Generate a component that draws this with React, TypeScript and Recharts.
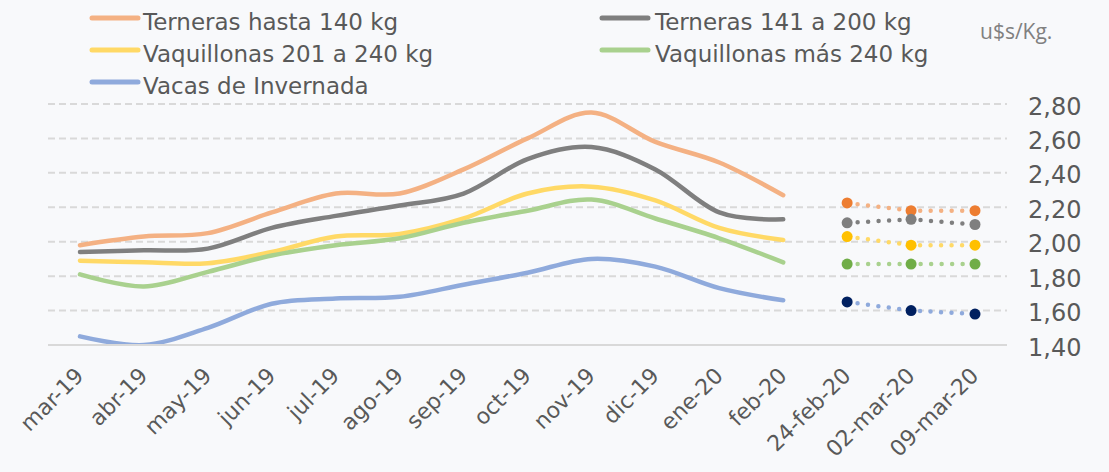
import React from "react";
import { ComposedChart, Line, XAxis, YAxis, CartesianGrid } from "recharts";

const categories = ["mar-19","abr-19","may-19","jun-19","jul-19","ago-19","sep-19","oct-19","nov-19","dic-19","ene-20","feb-20","24-feb-20","02-mar-20","09-mar-20"];
const monthCount = 12;

const terneras140 = [1.98, 2.03, 2.05, 2.17, 2.28, 2.28, 2.42, 2.60, 2.75, 2.58, 2.46, 2.27];
const terneras141 = [1.94, 1.95, 1.96, 2.08, 2.15, 2.21, 2.28, 2.48, 2.55, 2.42, 2.17, 2.13];
const vaquillonas201 = [1.89, 1.88, 1.875, 1.94, 2.03, 2.045, 2.135, 2.28, 2.32, 2.24, 2.08, 2.01];
const vaquillonas240 = [1.81, 1.74, 1.825, 1.92, 1.98, 2.02, 2.11, 2.18, 2.245, 2.135, 2.02, 1.88];
const vacas = [1.45, 1.40, 1.50, 1.64, 1.67, 1.68, 1.75, 1.82, 1.90, 1.855, 1.73, 1.66];

const terneras140W = [2.225, 2.18, 2.18];
const terneras141W = [2.11, 2.13, 2.10];
const vaquillonas201W = [2.03, 1.98, 1.98];
const vaquillonas240W = [1.87, 1.87, 1.87];
const vacasW = [1.65, 1.60, 1.58];

const yTicks = [1.4, 1.6, 1.8, 2.0, 2.2, 2.4, 2.6, 2.8];

const seriesNames = ["Terneras hasta 140 kg", "Terneras 141 a 200 kg", "Vaquillonas 201 a 240 kg", "Vaquillonas más 240 kg", "Vacas de Invernada"];
const lineColors = ["#F4B183", "#7F7F7F", "#FFD966", "#A9D18E", "#8FAADC"];
const dotColors = ["#ED7D31", "#7F7F7F", "#FFC000", "#70AD47", "#002060"];

const monthly = [terneras140, terneras141, vaquillonas201, vaquillonas240, vacas];
const weekly = [terneras140W, terneras141W, vaquillonas201W, vaquillonas240W, vacasW];

const data = categories.map((c, i) => {
  const row: any = { cat: c };
  monthly.forEach((arr, s) => {
    row["m" + s] = i < monthCount ? arr[i] : null;
  });
  weekly.forEach((arr, s) => {
    row["w" + s] = i >= monthCount ? arr[i - monthCount] : null;
  });
  return row;
});

// Catmull-Rom style curve (Excel-like smoothing)
function cardinal(context: any) {
  const k = 1 / 6;
  let x0 = NaN, y0 = NaN, x1 = NaN, y1 = NaN, x2 = NaN, y2 = NaN, pt = 0, ln = NaN as number;
  const seg = (x: number, y: number) => {
    context.bezierCurveTo(
      x1 + k * (x2 - x0), y1 + k * (y2 - y0),
      x2 + k * (x1 - x), y2 + k * (y1 - y),
      x2, y2
    );
  };
  return {
    areaStart() { ln = 0; },
    areaEnd() { ln = NaN; },
    lineStart() { x0 = x1 = x2 = y0 = y1 = y2 = NaN; pt = 0; },
    lineEnd() {
      if (pt === 2) context.lineTo(x2, y2);
      else if (pt === 3) seg(x1, y1);
      if (ln || (ln !== 0 && pt === 1)) context.closePath();
      ln = 1 - ln;
    },
    point(x: number, y: number) {
      x = +x; y = +y;
      if (pt === 0) { pt = 1; ln ? context.lineTo(x, y) : context.moveTo(x, y); }
      else if (pt === 1) { pt = 2; x1 = x; y1 = y; }
      else { pt = 3; seg(x, y); }
      x0 = x1; x1 = x2; x2 = x;
      y0 = y1; y1 = y2; y2 = y;
    },
  };
}

const FONT = "'DejaVu Sans', sans-serif";
const TEXT = "#595959";

const XTick = (props: any) => {
  const { x, y, payload } = props;
  const ax = x + 5;
  const ay = y + 32;
  return (
    <text x={ax} y={ay} transform={`rotate(-45, ${ax}, ${ay})`} textAnchor="end" fontFamily={FONT} fontSize={22} fill={TEXT}>
      {payload.value}
    </text>
  );
};

const YTick = (props: any) => {
  const { y, payload } = props;
  return (
    <text x={1028} y={y + 10.5} textAnchor="start" fontFamily={FONT} fontSize={24} fill={TEXT}>
      {Number(payload.value).toFixed(2).replace(".", ",")}
    </text>
  );
};

const legendPos = [
  { lx: 92, tx: 143, y: 18 },
  { lx: 602, tx: 655, y: 18 },
  { lx: 92, tx: 143, y: 50 },
  { lx: 602, tx: 655, y: 50 },
  { lx: 92, tx: 143, y: 82 },
];

export default function App() {
  return (
    <div style={{ position: "absolute", left: 0, top: 0, width: 1109, height: 472, background: "#F8F9FB", overflow: "hidden" }}>
      <ComposedChart width={1109} height={472} data={data} margin={{ top: 104, right: 0, left: 48, bottom: 0 }}>
        <CartesianGrid horizontal vertical={false} stroke="#D9D9D9" strokeWidth={2} strokeDasharray="7 4" />
        <XAxis
          dataKey="cat"
          interval={0}
          height={127}
          padding={{ left: 32, right: 32 }}
          axisLine={{ stroke: "#D9D9D9", strokeWidth: 2 }}
          tickLine={false}
          tickSize={0}
          tickMargin={0}
          tick={<XTick />}
        />
        <YAxis
          orientation="right"
          width={102}
          domain={[1.4, 2.8]}
          ticks={yTicks}
          axisLine={false}
          tickLine={false}
          tick={<YTick />}
          allowDataOverflow
        />
        {monthly.map((_, s) => (
          <Line
            key={"m" + s}
            dataKey={"m" + s}
            type={cardinal as any}
            stroke={lineColors[s]}
            strokeWidth={4.5}
            strokeLinecap="round"
            dot={false}
            activeDot={false}
            isAnimationActive={false}
            connectNulls={false}
          />
        ))}
        {weekly.map((_, s) => (
          <Line
            key={"w" + s}
            dataKey={"w" + s}
            type="linear"
            stroke={lineColors[s]}
            strokeWidth={4.5}
            strokeLinecap="round"
            strokeDasharray="0 10.5"
            dot={{ r: 5.5, fill: dotColors[s], stroke: "none", strokeDasharray: "" }}
            activeDot={false}
            isAnimationActive={false}
            connectNulls={false}
          />
        ))}
      </ComposedChart>
      <svg width={1109} height={472} style={{ position: "absolute", left: 0, top: 0, pointerEvents: "none" }}>
        {seriesNames.map((n, i) => {
          const p = legendPos[i];
          return (
            <g key={n}>
              <line x1={p.lx} x2={p.lx + 46} y1={p.y} y2={p.y} stroke={lineColors[i]} strokeWidth={5} strokeLinecap="round" />
              <text x={p.tx} y={p.y + 11.5} fontFamily={FONT} fontSize={23} fill={TEXT}>{n}</text>
            </g>
          );
        })}
        <text x={980} y={39} fontFamily="'Open Sans', sans-serif" fontSize={21} fill="#808080">u$s/Kg.</text>
      </svg>
    </div>
  );
}
